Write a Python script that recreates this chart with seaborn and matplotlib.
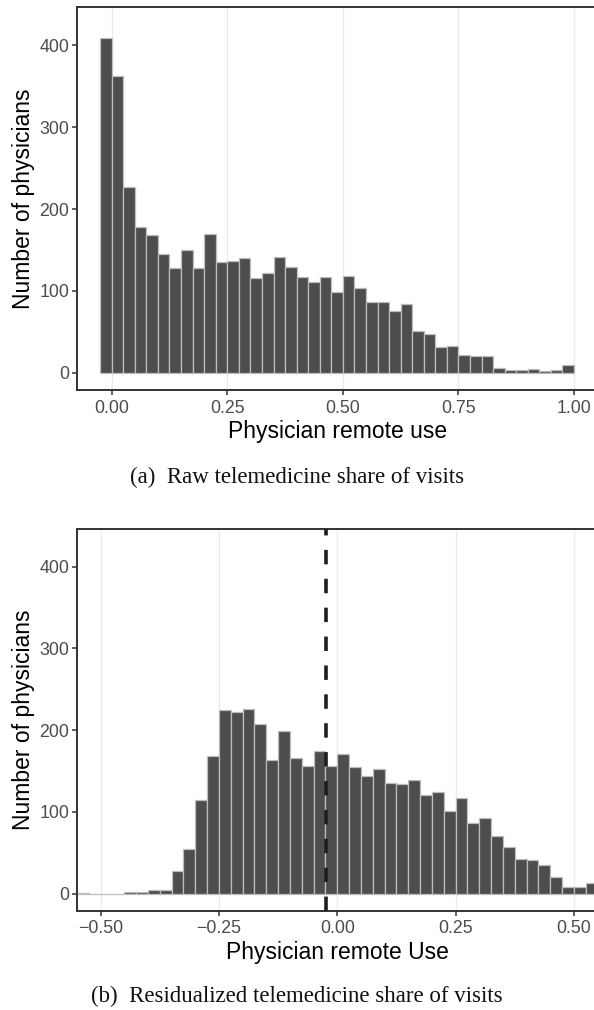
import numpy as np
import pandas as pd
import matplotlib
matplotlib.use("Agg")
import matplotlib.pyplot as plt
import seaborn as sns

# ---- data -------------------------------------------------------------
binwidth = 0.025
raw_left_edge = -0.025
raw_counts = [409, 363, 227, 178, 168, 145, 128, 150, 128, 169,
              135, 137, 140, 116, 122, 141, 129, 117, 111, 117,
              99, 118, 104, 86, 86, 75, 84, 51, 47, 32,
              33, 22, 20, 21, 6, 3, 4, 5, 2, 4, 9]

res_left_edge = -0.55
res_counts = [1, 0, 0, 0, 2, 2, 4, 4,
              28, 55, 115, 168, 225, 222, 226, 208, 163, 199, 166, 156, 174, 156,
              171, 155, 144, 153, 135, 134, 139, 120, 124, 101, 117, 86, 92, 70,
              57, 42, 41, 35, 20, 8, 8, 13]
res_mean = -0.024

raw_xticks = [0.0, 0.25, 0.50, 0.75, 1.00]
res_xticks = [-0.50, -0.25, 0.0, 0.25, 0.50]
yticks = [0, 100, 200, 300, 400]

raw_xlabel = "Physician remote use"
res_xlabel = "Physician remote Use"
ylabel = "Number of physicians"
cap_a = ("(a)", "Raw telemedicine share of visits")
cap_b = ("(b)", "Residualized telemedicine share of visits")

# ---- style ------------------------------------------------------------
sns.set_theme(style="white")
plt.rcParams['font.family'] = ['Liberation Sans', 'DejaVu Sans']

W, H = 594, 1010
fig = plt.figure(figsize=(W / 100, H / 100), dpi=100)

FILL = "#4D4D4D"
EDGE = "#BDBDBD"
GRID = "#EBEBEB"
SPINE = "#333333"
TICKC = "#4D4D4D"


def make_df(left, counts):
    n = len(counts)
    edges = [float(v) for v in (left + binwidth * np.arange(n + 1))]
    centers = [(edges[i] + edges[i + 1]) / 2 for i in range(n)]
    return pd.DataFrame({"x": centers, "n": counts}), edges


def style_axes(ax, xticks, xlim, xlabel, fmt):
    ax.set_xlim(*xlim)
    ax.set_ylim(-21, 446.5)
    ax.set_xticks(xticks)
    ax.set_xticklabels([fmt(v) for v in xticks])
    ax.set_yticks(yticks)
    ax.set_yticklabels([str(v) for v in yticks])
    ax.grid(False)
    for v in xticks:
        ax.axvline(v, color=GRID, lw=1.0, zorder=0)
    for s in ax.spines.values():
        s.set_color(SPINE)
        s.set_linewidth(1.4)
    ax.tick_params(axis="both", direction="out", length=3.5, width=1.1,
                   color=SPINE, labelsize=12.8, labelcolor=TICKC, pad=2,
                   bottom=True, left=True)
    ax.tick_params(axis="x", pad=3.5)
    ax.set_xlabel(xlabel, fontsize=16.5, color="black", labelpad=2.5)
    ax.set_ylabel(ylabel, fontsize=16.5, color="black", labelpad=3)
    ax.set_facecolor("white")


def fmt_pos(v):
    return f"{v:.2f}"


def fmt_signed(v):
    return f"{v:.2f}".replace("-", "\u2212")


left = 76.7 / W
width = (597.6 - 76.7) / W

# ---- (a) raw ----------------------------------------------------------
ax1 = fig.add_axes([left, 1 - 390 / H, width, (390 - 7.3) / H])
df1, e1 = make_df(raw_left_edge, raw_counts)
sns.histplot(data=df1, x="x", weights="n", bins=e1, ax=ax1,
             color=FILL, edgecolor=EDGE, linewidth=0.9, alpha=1, zorder=2)
style_axes(ax1, raw_xticks, (-0.0757, 1.051), raw_xlabel, fmt_pos)

# ---- (b) residualized -------------------------------------------------
ax2 = fig.add_axes([left, 1 - 910.7 / H, width, (910.7 - 528.7) / H])
df2, e2 = make_df(res_left_edge, res_counts)
sns.histplot(data=df2, x="x", weights="n", bins=e2, ax=ax2,
             color=FILL, edgecolor=EDGE, linewidth=0.9, alpha=1, zorder=2)
style_axes(ax2, res_xticks, (-0.5506, 0.55), res_xlabel, fmt_signed)
ax2.axvline(res_mean, color="#1E1E1E", lw=2.6, dashes=(4.0, 4.0), zorder=3)

# ---- captions ---------------------------------------------------------
serif = ['Liberation Serif', 'DejaVu Serif']
for (tag, txt), y in ((cap_a, 477), (cap_b, 996)):
    fig.text(0.5, 1 - y / H, tag + "  " + txt, ha="center", va="center",
             fontsize=16.5, family=serif, color="#111111")

fig.savefig("out.png", dpi=100, facecolor="white")
